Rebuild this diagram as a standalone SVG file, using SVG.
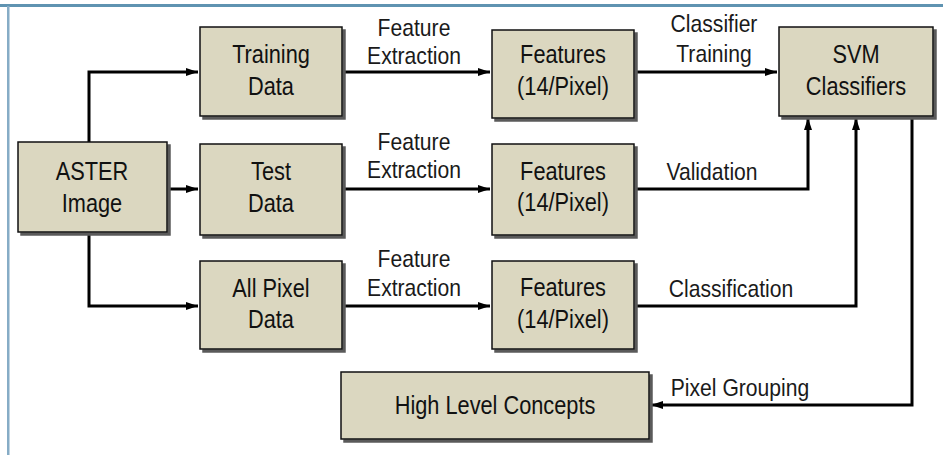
<svg xmlns="http://www.w3.org/2000/svg" width="943" height="455" viewBox="0 0 943 455">
  <defs>
    <filter id="shadow" x="-5%" y="-5%" width="115%" height="120%">
      <feOffset in="SourceAlpha" dx="3" dy="3" result="o"/>
      <feFlood flood-color="#5a5a5a"/>
      <feComposite in2="o" operator="in" result="s"/>
      <feMerge><feMergeNode in="s"/><feMergeNode in="SourceGraphic"/></feMerge>
    </filter>
    <marker id="arrow" viewBox="0 0 12 8" refX="12" refY="4" markerWidth="12" markerHeight="8" markerUnits="userSpaceOnUse" orient="auto">
      <path d="M0,0 L12,4 L0,8 Z" fill="#000"/>
    </marker>
  </defs>
  <style>
    .box { fill: #dbd7c0; stroke: #111; stroke-width: 1.5; filter: url(#shadow); }
    .n { font-family: "Liberation Sans", Arial, sans-serif; font-size: 25px; text-anchor: middle; fill: #111; }
    .l { font-family: "Liberation Sans", Arial, sans-serif; font-size: 24px; text-anchor: middle; fill: #1a1a1a; }
    .c { fill: none; stroke: #000; stroke-width: 3; }
  </style>

  <!-- frame -->
  <rect x="0" y="4" width="943" height="3" fill="#5f93b1"/>
  <rect x="7" y="6" width="2.5" height="449" fill="#86acc6"/>

  <!-- connectors -->
  <g id="connectors">
    <path class="c" d="M89,142 V72 H198" marker-end="url(#arrow)"/>
    <path class="c" d="M167,189 H198" marker-end="url(#arrow)"/>
    <path class="c" d="M89,232 V306 H198" marker-end="url(#arrow)"/>
    <path class="c" d="M342,72 H490" marker-end="url(#arrow)"/>
    <path class="c" d="M342,189 H490" marker-end="url(#arrow)"/>
    <path class="c" d="M342,306 H490" marker-end="url(#arrow)"/>
    <path class="c" d="M634,72 H777" marker-end="url(#arrow)"/>
    <path class="c" d="M634,189 H808 V118" marker-end="url(#arrow)"/>
    <path class="c" d="M634,306 H856 V118" marker-end="url(#arrow)"/>
    <path class="c" d="M912,116 V405 H651" marker-end="url(#arrow)"/>
    <text class="l" transform="translate(414 36) scale(0.88 1)"><tspan x="0">Feature</tspan><tspan x="0" dy="28">Extraction</tspan></text>
    <text class="l" transform="translate(414 150) scale(0.88 1)"><tspan x="0">Feature</tspan><tspan x="0" dy="28">Extraction</tspan></text>
    <text class="l" transform="translate(414 267) scale(0.88 1)"><tspan x="0">Feature</tspan><tspan x="0" dy="29">Extraction</tspan></text>
    <text class="l" transform="translate(714 32) scale(0.88 1)"><tspan x="0">Classifier</tspan><tspan x="0" dy="30">Training</tspan></text>
    <text class="l" transform="translate(712 180) scale(0.88 1)">Validation</text>
    <text class="l" transform="translate(731 297) scale(0.88 1)">Classification</text>
    <text class="l" transform="translate(740 396) scale(0.88 1)">Pixel Grouping</text>
  </g>

  <!-- nodes -->
  <g id="aster">
    <rect class="box" x="18" y="142" width="149" height="90"/>
    <text class="n" transform="translate(92 180) scale(0.87 1)"><tspan x="0">ASTER</tspan><tspan x="0" dy="32">Image</tspan></text>
  </g>
  <g id="training-data">
    <rect class="box" x="200" y="27" width="142" height="89"/>
    <text class="n" transform="translate(271 63) scale(0.87 1)"><tspan x="0">Training</tspan><tspan x="0" dy="32">Data</tspan></text>
  </g>
  <g id="test-data">
    <rect class="box" x="200" y="144" width="142" height="91"/>
    <text class="n" transform="translate(271 180) scale(0.87 1)"><tspan x="0">Test</tspan><tspan x="0" dy="32">Data</tspan></text>
  </g>
  <g id="all-pixel-data">
    <rect class="box" x="200" y="261" width="142" height="88"/>
    <text class="n" transform="translate(271 297) scale(0.87 1)"><tspan x="0">All Pixel</tspan><tspan x="0" dy="31">Data</tspan></text>
  </g>
  <g id="features-1">
    <rect class="box" x="492" y="30" width="142" height="88"/>
    <text class="n" transform="translate(563 63) scale(0.87 1)"><tspan x="0">Features</tspan><tspan x="0" dy="32">(14/Pixel)</tspan></text>
  </g>
  <g id="features-2">
    <rect class="box" x="492" y="144" width="142" height="91"/>
    <text class="n" transform="translate(563 180) scale(0.87 1)"><tspan x="0">Features</tspan><tspan x="0" dy="31">(14/Pixel)</tspan></text>
  </g>
  <g id="features-3">
    <rect class="box" x="492" y="261" width="142" height="88"/>
    <text class="n" transform="translate(563 296) scale(0.87 1)"><tspan x="0">Features</tspan><tspan x="0" dy="32">(14/Pixel)</tspan></text>
  </g>
  <g id="svm">
    <rect class="box" x="779" y="27" width="154" height="89"/>
    <text class="n" transform="translate(856 63) scale(0.87 1)"><tspan x="0">SVM</tspan><tspan x="0" dy="32">Classifiers</tspan></text>
  </g>
  <g id="high-level-concepts">
    <rect class="box" x="341" y="372" width="308" height="67"/>
    <text class="n" transform="translate(495 414) scale(0.87 1)">High Level Concepts</text>
  </g>
</svg>
